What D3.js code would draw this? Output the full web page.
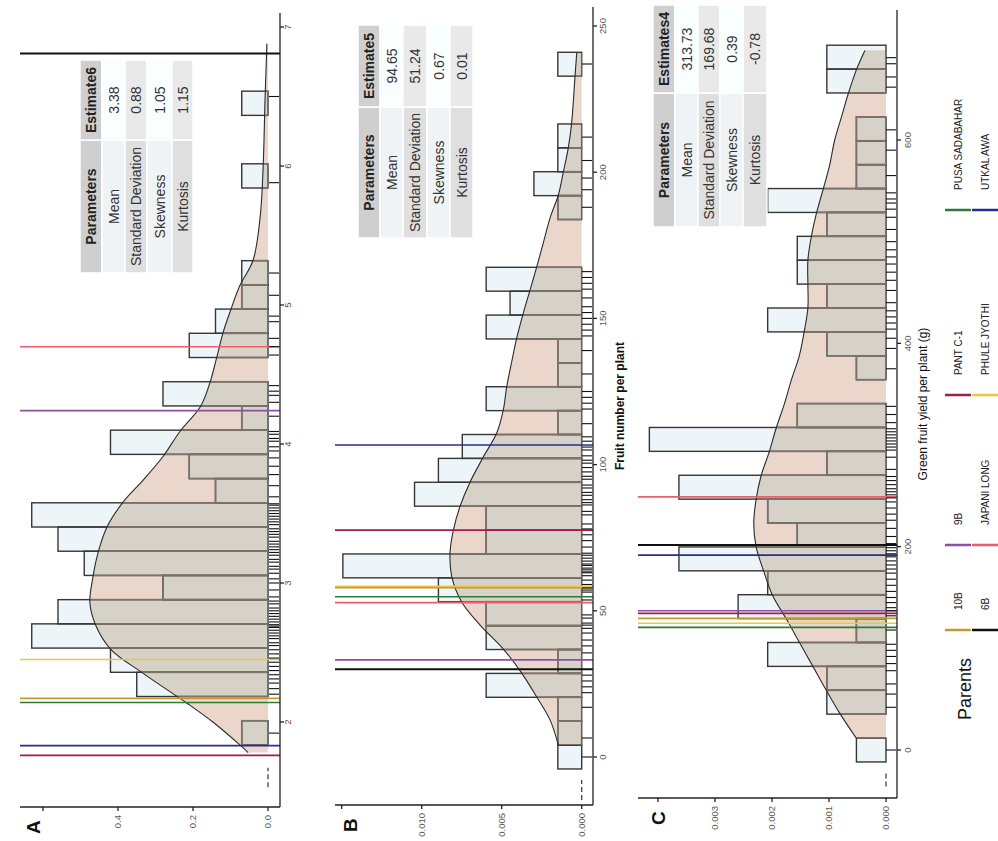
<!DOCTYPE html>
<html>
<head>
<meta charset="utf-8">
<script src="https://cdn.jsdelivr.net/npm/d3@7/dist/d3.min.js"></script>
<style>
  body { margin: 0; background: #fff; }
  svg { display: block; }
  text { font-family: "Liberation Sans", Arial, sans-serif; }
</style>
</head>
<body>
<div id="vis"></div>
<script>
// parents, in legend order (2 rows, filled column by column)
const parentNames = ['10B', '6B', '9B', 'JAPANI LONG', 'PANT C-1', 'PHULE JYOTHI', 'PUSA SADABAHAR', 'UTKAL AWA'];
const parentColors = ['#c49a2c', '#111111', '#8b4fa3', '#ee5d6e', '#9e1c4e', '#e8c74c', '#2f7b34', '#2a2c8e'];
const statNames = ['Mean', 'Standard Deviation', 'Skewness', 'Kurtosis'];

// panel A
const binStartA = 1.835, binWidthA = 0.1742, nA = 82;
const countsA = [1, 0, 5, 6, 9, 8, 4, 7, 8, 9, 2, 3, 6, 1, 4, 0, 3, 2, 1, 1, 0, 0, 0, 1, 0, 0, 1];
const curveA = [[1.78, 0.053], [1.835, 0.075], [2.0, 0.147], [2.137, 0.217], [2.35, 0.333], [2.525, 0.42],
  [2.70, 0.46], [2.86, 0.475], [3.04, 0.467], [3.22, 0.453], [3.40, 0.43], [3.58, 0.387], [3.74, 0.333],
  [3.91, 0.28], [4.09, 0.235], [4.27, 0.18], [4.44, 0.155], [4.62, 0.137], [4.80, 0.12], [4.96, 0.10],
  [5.14, 0.075], [5.32, 0.04], [5.63, 0.021], [5.99, 0.013], [6.47, 0.008], [6.88, 0.003]];
const rugA = [1.92, 2.2, 2.24, 2.28, 2.31, 2.34, 2.37, 2.4, 2.43, 2.46, 2.49, 2.52, 2.55, 2.57, 2.6, 2.62, 2.64,
  2.66, 2.68, 2.69, 2.7, 2.72, 2.74, 2.76, 2.78, 2.8, 2.82, 2.85, 2.87, 2.9, 2.95, 3.0, 3.03, 3.07, 3.1, 3.12,
  3.15, 3.17, 3.2, 3.22, 3.24, 3.26, 3.28, 3.3, 3.33, 3.35, 3.37, 3.39, 3.42, 3.44, 3.46, 3.48, 3.5, 3.52, 3.54,
  3.56, 3.57, 3.62, 3.7, 3.78, 3.84, 3.9, 3.95, 3.98, 4.02, 4.04, 4.07, 4.09, 4.2, 4.3, 4.35, 4.38, 4.42, 4.64,
  4.7, 4.76, 4.88, 4.92, 5.07, 5.23, 5.88, 6.5];
const parentsA = [2.17, 6.81, 4.24, 4.70, 1.76, 2.45, 2.14, 1.83];
const statsA = ['3.38', '0.88', '1.05', '1.15'];
const ticksA = [2, 3, 4, 5, 6, 7];
const densTicksA = [0, 0.2, 0.4, 0.6];
const densLabelsA = ['0.0', '0.2', '0.4', ''];

// panel B
const binStartB = -4.09, binWidthB = 8.17, nB = 82;
const countsB = [1, 1, 1, 4, 1, 4, 4, 6, 10, 4, 4, 7, 6, 5, 1, 4, 1, 1, 4, 3, 4, 0, 0, 1, 2, 1, 1, 0, 0, 1];
const curveB = [[4.1, 0.00146], [12.7, 0.00198], [20.5, 0.00281], [28.7, 0.00375], [36.9, 0.0049], [45.1, 0.00635],
  [53, 0.0075], [61.6, 0.00812], [69.8, 0.00823], [77.6, 0.00802], [85.8, 0.0076], [94, 0.00698], [102.6, 0.00615],
  [110.8, 0.00531], [118.7, 0.0049], [126.5, 0.00469], [135, 0.00438], [143.3, 0.00406], [151.8, 0.00365],
  [159.7, 0.00323], [167.6, 0.00281], [175.8, 0.0024], [184.3, 0.00198], [192.2, 0.00146], [200, 0.00115],
  [208.6, 0.00083], [216.8, 0.00063], [232.6, 0.00042], [240.8, 0.00031]];
const rugB = [0, 6.5, 17, 22, 24, 26, 28, 35.6, 38, 40, 42.4, 44, 45.1, 45.8, 47.5, 48.6, 53.7, 56.4, 57.1, 57.8,
  59, 60.5, 62, 63, 63.3, 64, 64.6, 65.5, 66, 67, 68, 69, 69.7, 71.8, 74, 76, 78, 79.7, 82.8, 84, 86.2, 87, 88,
  89.5, 90.5, 92, 93, 95, 96, 97.5, 99, 100.5, 101.5, 103, 105, 106, 108, 109.5, 114, 119, 121, 123, 125, 131,
  139, 144, 146, 148, 150, 152, 154, 157, 160, 162, 164, 166, 188, 194, 198, 204, 212, 237];
const parentsB = [57.9, 30.0, 33.2, 52.8, 77.6, 58.4, 54.8, 106.7];
const statsB = ['94.65', '51.24', '0.67', '0.01'];
const ticksB = [0, 50, 100, 150, 200, 250];
const densTicksB = [0, 0.005, 0.010, 0.015];
const densLabelsB = ['0.000', '0.005', '0.010', ''];

// panel C
const binStartC = -11.75, binWidthC = 23.5, nC = 82;
const countsC = [1, 0, 2, 2, 4, 1, 5, 4, 7, 3, 4, 7, 2, 8, 3, 0, 1, 2, 4, 2, 3, 3, 2, 4, 1, 1, 1, 0, 2, 2];
const curveC = [[11.5, 0.00052], [36, 0.00081], [59, 0.00105], [82, 0.00128], [106, 0.00152], [129, 0.00175],
  [152, 0.00199], [175, 0.00214], [200, 0.00228], [223, 0.00232], [246, 0.00228], [270, 0.00219], [293, 0.00205],
  [316, 0.00193], [341, 0.00178], [364, 0.00166], [388, 0.00152], [413, 0.00143], [435, 0.00137], [457, 0.00137],
  [482, 0.00137], [505, 0.00131], [528, 0.00122], [552, 0.0011], [575, 0.00099], [600, 0.0009], [623, 0.00078],
  [646, 0.00066], [669, 0.00052], [688, 0.00037]];
const rugC = [0, 42, 55, 65, 78, 85, 92, 98, 104, 118, 132, 137, 140, 145, 150, 156, 162, 168, 174, 178, 182, 186,
  190, 193, 196, 199, 203, 210, 218, 226, 232, 238, 244, 248, 251, 254, 257, 261, 265, 269, 276, 288, 295, 298,
  301, 304, 307, 310, 313, 316, 322, 330, 338, 375, 395, 405, 414, 420, 426, 432, 440, 452, 462, 470, 478, 485,
  492, 500, 512, 524, 532, 538, 542, 548, 565, 590, 610, 652, 662, 675, 681];
const parentsC = [129.5, 201.6, 137, 249, 134.4, 124.6, 120.6, 191.7];
const statsC = ['313.73', '169.68', '0.39', '-0.78'];
const ticksC = [0, 200, 400, 600];
const densTicksC = [0, 0.001, 0.002, 0.003, 0.004];
const densLabelsC = ['0.000', '0.001', '0.002', '0.003', ''];

// the figure is drawn upright (841 wide, 998 tall) and then turned a quarter left
const svg = d3.select('#vis').append('svg').attr('width', 998).attr('height', 841);
const fig = svg.append('g').attr('transform', 'translate(0,841) rotate(-90)');

const panels = [
  {
    letter: 'A', counts: countsA, binStart: binStartA, binWidth: binWidthA, n: nA, curve: curveA, rug: rugA,
    parents: parentsA, stats: statsA, header: 'Estimate6', ticks: ticksA, densTicks: densTicksA, densLabels: densLabelsA,
    title: null,
    lay: { xDomain: [2, 7], xRange: [119, 814], yDomain: [0, 0.6], yRange: [268, 43], axisV: 280, axisU: 34,
      axisEnd: 828, densTop: 20, letterPos: [14, 33], rows: [80, 102, 125, 147, 172, 193], cols: [568, 701, 781],
      labelGap: 4, seg: [1.53, 1.67] }
  },
  {
    letter: 'B', counts: countsB, binStart: binStartB, binWidth: binWidthB, n: nB, curve: curveB, rug: rugB,
    parents: parentsB, stats: statsB, header: 'Estimate5', ticks: ticksB, densTicks: densTicksB, densLabels: densLabelsB,
    title: 'Fruit number per plant', titleBold: true,
    lay: { xDomain: [0, 250], xRange: [84, 815], yDomain: [0, 0.015], yRange: [581.7, 341.7], axisV: 593, axisU: 36,
      axisEnd: 834, densTop: 335, letterPos: [16, 350], rows: [358, 380, 403, 427, 450, 473], cols: [603, 734, 816],
      labelGap: 6, titleV: 624, seg: [-14.7, -7.9] }
  },
  {
    letter: 'C', counts: countsC, binStart: binStartC, binWidth: binWidthC, n: nC, curve: curveC, rug: rugC,
    parents: parentsC, stats: statsC, header: 'Estimates4', ticks: ticksC, densTicks: densTicksC, densLabels: densLabelsC,
    title: 'Green fruit yield per plant (g)', titleBold: false,
    lay: { xDomain: [0, 600], xRange: [91, 701], yDomain: [0, 0.004], yRange: [886, 658], axisV: 897, axisU: 43,
      axisEnd: 831, densTop: 638, letterPos: [23, 658], rows: [653, 675, 698, 720, 743, 767], cols: [614, 748, 836],
      labelGap: 7, titleV: 927, seg: [-36, -22] }
  }
];

panels.forEach(drawPanel);
drawLegend();

function drawPanel(p, idx) {
  const L = p.lay;
  const g = fig.append('g');
  const x = d3.scaleLinear().domain(L.xDomain).range(L.xRange);
  const y = d3.scaleLinear().domain(L.yDomain).range(L.yRange);

  const bins = p.counts.map((c, i) => ({
    x0: p.binStart + i * p.binWidth,
    x1: p.binStart + (i + 1) * p.binWidth,
    d: c / (p.n * p.binWidth)
  })).filter(b => b.d > 0);

  const area = d3.area()
    .x(d => x(d[0]))
    .y0(y(0))
    .y1(d => y(d[1]))
    .curve(d3.curveCatmullRom);
  const clipId = 'dens' + idx;
  g.append('clipPath').attr('id', clipId).append('path').attr('d', area(p.curve));

  const bar = sel => sel
    .attr('x', d => x(d.x0))
    .attr('width', d => x(d.x1) - x(d.x0))
    .attr('y', d => y(d.d))
    .attr('height', d => y(0) - y(d.d));

  // histogram, density fill, and the overlap of the two
  g.append('g').selectAll('rect').data(bins).join('rect').call(bar).attr('fill', '#eef5f9');
  g.append('path').attr('d', area(p.curve)).attr('fill', '#ebd6cb');
  g.append('g').attr('clip-path', 'url(#' + clipId + ')')
    .selectAll('rect').data(bins).join('rect').call(bar).attr('fill', '#d7d2c8');
  g.append('g').selectAll('rect').data(bins).join('rect').call(bar)
    .attr('fill', 'none').attr('stroke', '#363636').attr('stroke-width', 1.4);
  g.append('g').attr('clip-path', 'url(#' + clipId + ')')
    .selectAll('rect').data(bins).join('rect').call(bar)
    .attr('fill', 'none').attr('stroke', '#7e726a').attr('stroke-width', 1.6);
  g.append('path').attr('d', area.lineY1()(p.curve))
    .attr('fill', 'none').attr('stroke', '#2b2b2b').attr('stroke-width', 1.1);

  // parent lines
  g.append('g').selectAll('line').data(p.parents).join('line')
    .attr('x1', d => x(d)).attr('x2', d => x(d))
    .attr('y1', L.densTop).attr('y2', L.axisV)
    .attr('stroke', (d, i) => parentColors[i])
    .attr('stroke-width', (d, i) => parentNames[i] === '6B' ? 2 : 1.6);

  // rug
  g.append('g').selectAll('line').data(p.rug).join('line')
    .attr('x1', d => x(d)).attr('x2', d => x(d))
    .attr('y1', L.axisV - 11).attr('y2', L.axisV - 1)
    .attr('stroke', '#111').attr('stroke-width', 1.1);

  g.append('line')
    .attr('x1', x(L.seg[0])).attr('x2', x(L.seg[1]))
    .attr('y1', y(0)).attr('y2', y(0))
    .attr('stroke', '#333').attr('stroke-width', 1.2).attr('stroke-dasharray', '5,3');

  // axes
  const axis = g.append('g').attr('stroke', '#222').attr('stroke-width', 1.3);
  axis.append('line').attr('x1', L.axisU).attr('x2', L.axisEnd).attr('y1', L.axisV).attr('y2', L.axisV);
  axis.append('line').attr('x1', L.axisU).attr('x2', L.axisU).attr('y1', L.densTop).attr('y2', L.axisV);
  axis.selectAll('.tx').data(p.ticks).join('line').attr('class', 'tx')
    .attr('x1', d => x(d)).attr('x2', d => x(d)).attr('y1', L.axisV).attr('y2', L.axisV + 4);
  axis.selectAll('.ty').data(p.densTicks).join('line').attr('class', 'ty')
    .attr('x1', L.axisU - 4).attr('x2', L.axisU).attr('y1', d => y(d)).attr('y2', d => y(d));

  g.append('g').selectAll('text').data(p.ticks).join('text')
    .attr('x', d => x(d)).attr('y', L.axisV + L.labelGap).attr('dy', '0.72em')
    .attr('text-anchor', 'middle').attr('font-size', 9.5).attr('fill', '#555')
    .text(d => d);
  g.append('g').selectAll('text').data(p.densTicks).join('text')
    .attr('x', L.axisU - 8).attr('y', d => y(d)).attr('dy', '0.35em')
    .attr('text-anchor', 'end').attr('font-size', 9.5).attr('fill', '#555')
    .text((d, i) => p.densLabels[i]);

  if (p.title) {
    g.append('text')
      .attr('x', (L.axisU + L.axisEnd) / 2).attr('y', L.titleV)
      .attr('text-anchor', 'middle').attr('font-size', 12)
      .attr('font-weight', p.titleBold ? 'bold' : 'normal').attr('fill', '#111')
      .text(p.title);
  }

  g.append('text')
    .attr('x', L.letterPos[0]).attr('y', L.letterPos[1]).attr('dy', '0.35em')
    .attr('text-anchor', 'middle').attr('font-family', '"Liberation Serif", "Times New Roman", serif')
    .attr('font-weight', 'bold').attr('font-size', 19).attr('fill', '#111')
    .text(p.letter);

  drawTable(g, L, p.header, p.stats);
}

function drawTable(g, L, header, stats) {
  const rowFill = ['#cfcfcf', '#eff3f6', '#dfdfdf', '#eff3f6', '#dfdfdf'];
  const cells = [];
  for (let r = 0; r < 5; r++) {
    for (let c = 0; c < 2; c++) {
      cells.push({
        r, c,
        text: r === 0 ? (c === 0 ? 'Parameters' : header) : (c === 0 ? statNames[r - 1] : stats[r - 1])
      });
    }
  }
  const t = g.append('g');
  t.selectAll('rect').data(cells).join('rect')
    .attr('x', d => L.cols[d.c]).attr('width', d => L.cols[d.c + 1] - L.cols[d.c])
    .attr('y', d => L.rows[d.r]).attr('height', d => L.rows[d.r + 1] - L.rows[d.r])
    .attr('fill', d => d.c === 1 && d.r > 0 ? d3.color(rowFill[d.r]).brighter(0.12) : rowFill[d.r])
    .attr('stroke', '#fff').attr('stroke-width', 1.5);
  t.selectAll('text').data(cells).join('text')
    .attr('x', d => (L.cols[d.c] + L.cols[d.c + 1]) / 2)
    .attr('y', d => (L.rows[d.r] + L.rows[d.r + 1]) / 2).attr('dy', '0.36em')
    .attr('text-anchor', 'middle').attr('font-size', 14)
    .attr('font-weight', d => d.r === 0 ? 'bold' : 'normal')
    .attr('fill', d => d.r === 0 ? '#222' : '#333')
    .text(d => d.text);
}

function drawLegend() {
  const colStart = [231, 316, 466, 651];
  const rowMid = [958, 985];
  const lg = fig.append('g');
  lg.append('text').attr('x', 121).attr('y', 965).attr('dy', '0.35em')
    .attr('font-size', 18).attr('fill', '#111').text('Parents');
  const items = parentNames.map((name, i) => ({ name, color: parentColors[i], col: Math.floor(i / 2), row: i % 2 }));
  lg.selectAll('line').data(items).join('line')
    .attr('x1', d => colStart[d.col] - 20).attr('x2', d => colStart[d.col] - 20)
    .attr('y1', d => rowMid[d.row] - 13).attr('y2', d => rowMid[d.row] + 13)
    .attr('stroke', d => d.color).attr('stroke-width', 2.5);
  lg.selectAll('text.item').data(items).join('text').attr('class', 'item')
    .attr('x', d => colStart[d.col]).attr('y', d => rowMid[d.row]).attr('dy', '0.35em')
    .attr('font-size', 10).attr('fill', '#222').text(d => d.name);
}
</script>
</body>
</html>
